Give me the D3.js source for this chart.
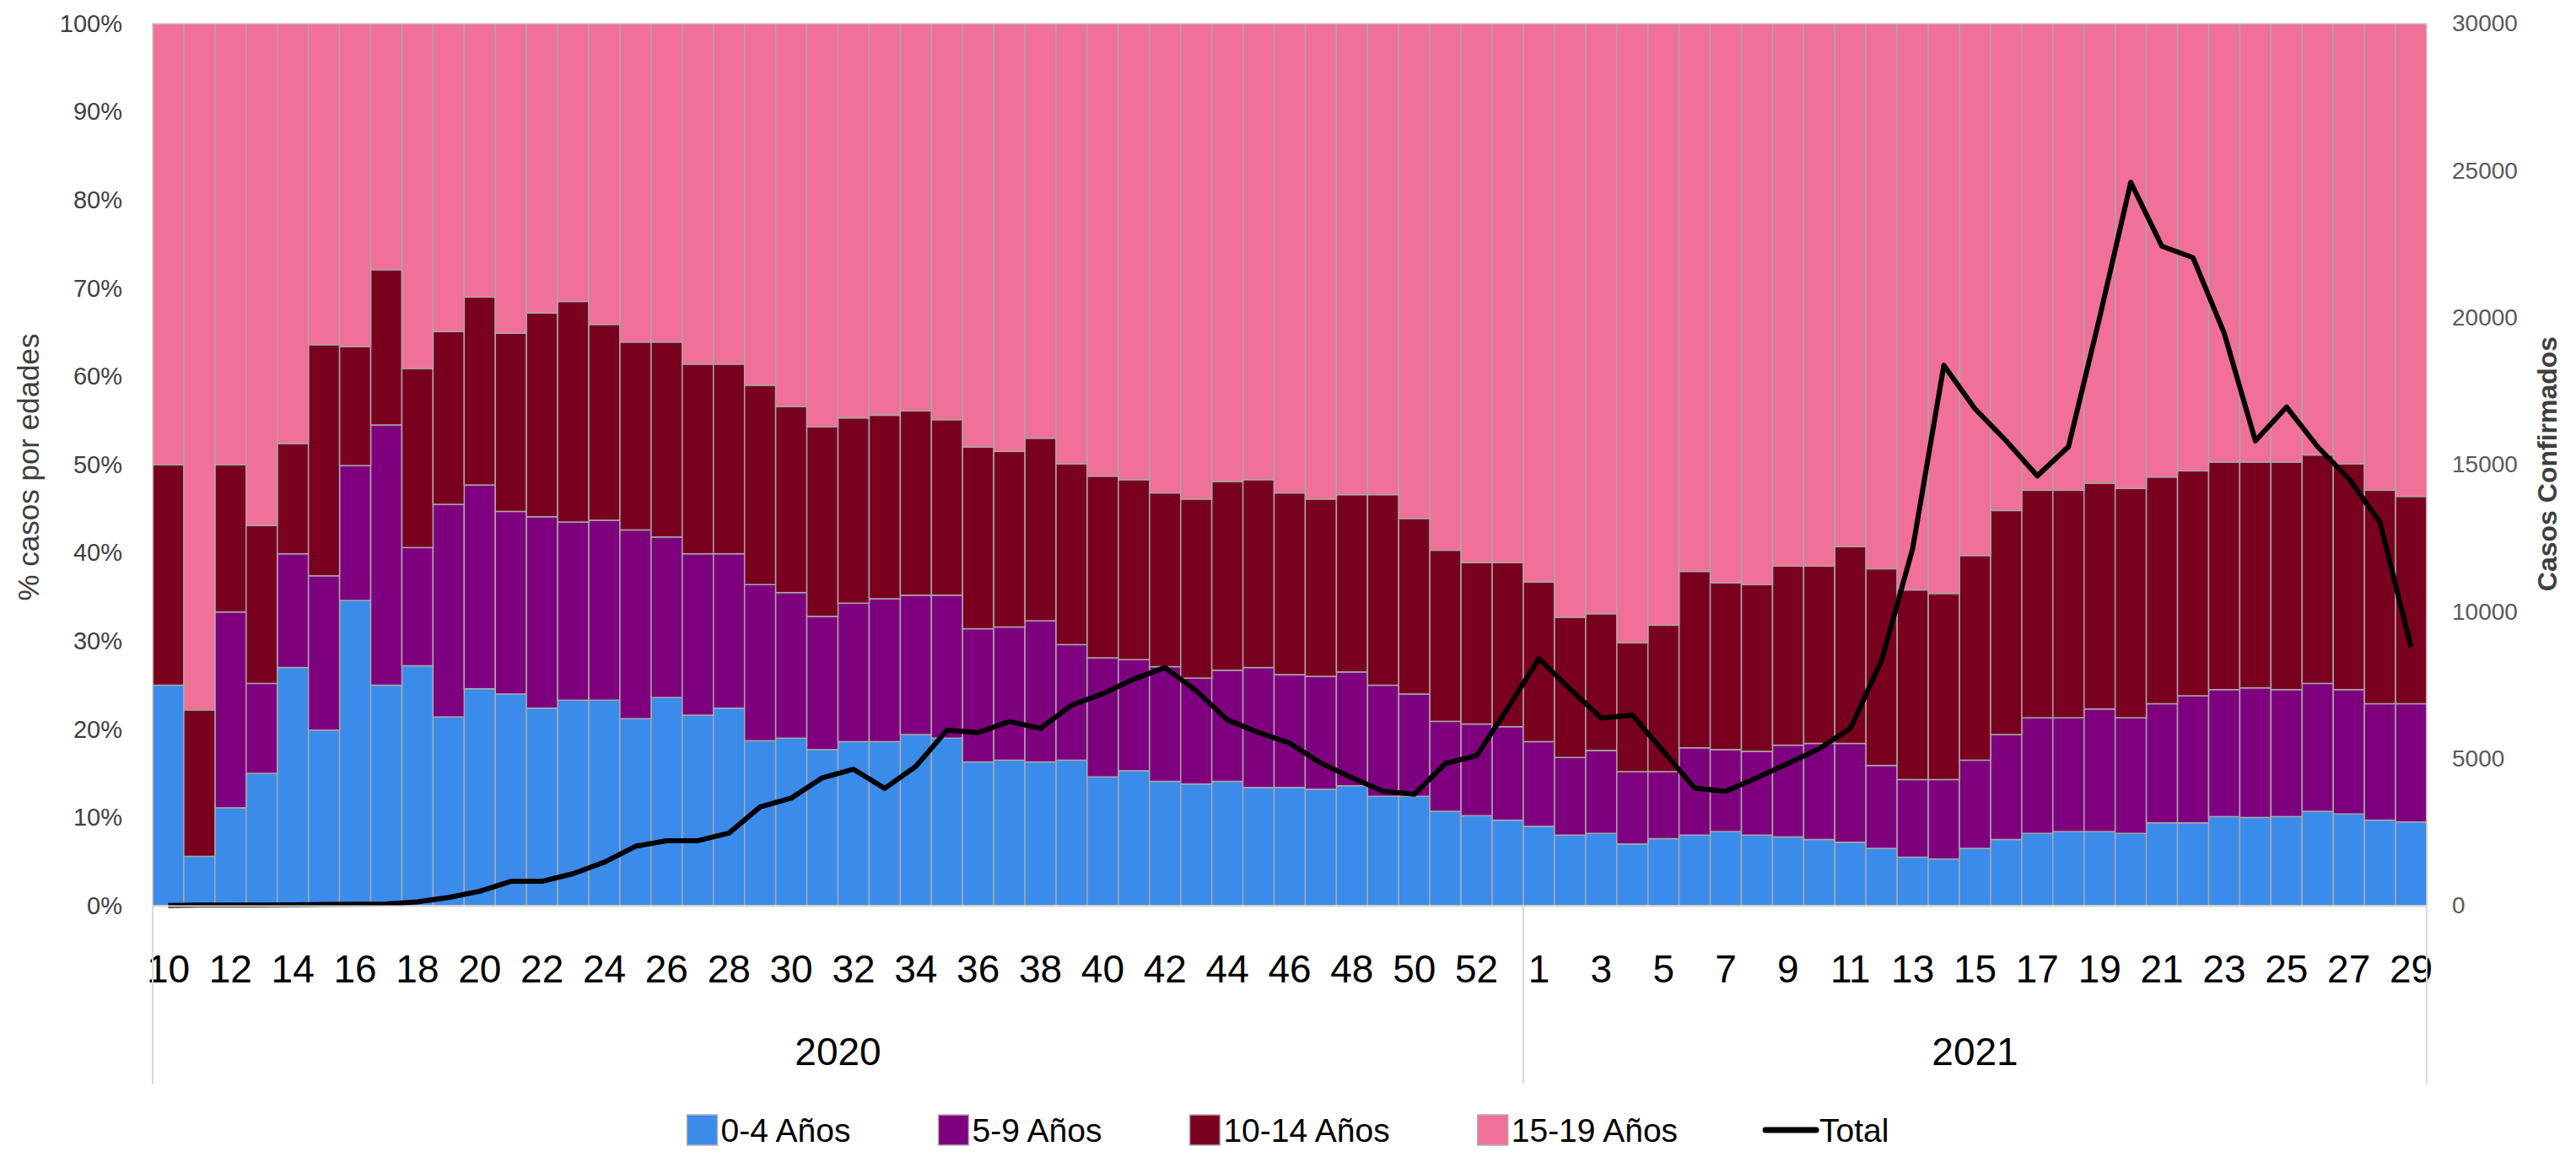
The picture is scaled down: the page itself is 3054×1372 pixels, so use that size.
<!DOCTYPE html>
<html>
<head>
<meta charset="utf-8">
<script src="https://cdn.jsdelivr.net/npm/d3@7"></script>
<style>
  body { margin: 0; background: #fff; }
  svg { display: block; }
</style>
</head>
<body>
<svg id="chart" width="3054" height="1372"></svg>
<script>
// semanas epidemiologicas
const weeks2020 = ['10','11','12','13','14','15','16','17','18','19','20','21','22','23','24','25','26','27','28','29','30','31',
  '32','33','34','35','36','37','38','39','40','41','42','43','44','45','46','47','48','49','50','51','52','53'];
const weeks2021 = ['1','2','3','4','5','6','7','8','9','10','11','12','13','14','15','16','17','18','19','20','21','22','23',
  '24','25','26','27','28','29'];
const years = ['2020', '2021'];

// % de casos por grupo de edad (cada semana suma 100)
const age04 = [25.0, 5.6, 11.1, 15.0, 27.0, 19.9, 34.6, 25.0, 27.2, 21.4, 24.6, 24.0, 22.4, 23.3, 23.3, 21.2, 23.6, 21.6, 22.4, 18.7,
  19.0, 17.7, 18.6, 18.6, 19.4, 19.0, 16.3, 16.5, 16.3, 16.5, 14.6, 15.3, 14.1, 13.8, 14.1, 13.4, 13.4, 13.2, 13.6, 12.4,
  12.4, 10.7, 10.2, 9.7,
  9.0, 8.0, 8.2, 7.0, 7.6, 8.0, 8.4, 8.0, 7.8, 7.5, 7.2, 6.5, 5.5, 5.3, 6.5, 7.5, 8.2, 8.4, 8.4, 8.2, 9.4, 9.4, 10.1, 10.0,
  10.1, 10.7, 10.4, 9.7, 9.5];
const age59 = [0.0, 0.0, 22.2, 10.2, 12.9, 17.5, 15.3, 29.5, 13.4, 24.1, 23.1, 20.7, 21.7, 20.2, 20.4, 21.4, 18.2, 18.3, 17.5, 17.7,
  16.5, 15.1, 15.7, 16.2, 15.8, 16.2, 15.1, 15.1, 16.0, 13.1, 13.5, 12.6, 13.0, 12.0, 12.6, 13.6, 12.8, 12.8, 12.9, 12.6,
  11.6, 10.2, 10.4, 10.6,
  9.6, 8.8, 9.4, 8.2, 7.6, 9.9, 9.3, 9.5, 10.4, 10.9, 11.2, 9.4, 8.8, 9.0, 10.0, 11.9, 13.1, 12.9, 13.9, 13.1, 13.5, 14.4,
  14.4, 14.7, 14.4, 14.5, 14.1, 13.2, 13.4];
const age1014 = [25.0, 16.6, 16.7, 17.9, 12.5, 26.2, 13.5, 17.6, 20.3, 19.6, 21.3, 20.2, 23.1, 25.0, 22.2, 21.3, 22.1, 21.5, 21.5, 22.6,
  21.1, 21.5, 21.0, 20.8, 20.9, 19.9, 20.6, 19.9, 20.7, 20.5, 20.6, 20.4, 19.7, 20.3, 21.4, 21.3, 20.6, 20.1, 20.1, 21.6,
  19.9, 19.4, 18.3, 18.6,
  18.1, 15.9, 15.5, 14.6, 16.6, 20.0, 18.9, 18.9, 20.3, 20.1, 22.3, 22.3, 21.5, 21.1, 23.2, 25.4, 25.8, 25.8, 25.6, 26.0,
  25.7, 25.5, 25.8, 25.6, 25.8, 25.9, 25.6, 24.2, 23.5];
const age1519 = [50.0, 77.8, 50.0, 56.9, 47.6, 36.4, 36.6, 27.9, 39.1, 34.9, 31.0, 35.1, 32.8, 31.5, 34.1, 36.1, 36.1, 38.6, 38.6, 41.0,
  43.4, 45.7, 44.7, 44.4, 43.9, 44.9, 48.0, 48.5, 47.0, 49.9, 51.3, 51.7, 53.2, 53.9, 51.9, 51.7, 53.2, 53.9, 53.4, 53.4,
  56.1, 59.7, 61.1, 61.1,
  63.3, 67.3, 66.9, 70.2, 68.2, 62.1, 63.4, 63.6, 61.5, 61.5, 59.3, 61.8, 64.2, 64.6, 60.3, 55.2, 52.9, 52.9, 52.1, 52.7,
  51.4, 50.7, 49.7, 49.7, 49.7, 48.9, 49.9, 52.9, 53.6];
// casos confirmados totales (eje derecho)
const total = [4, 18, 18, 20, 30, 40, 50, 60, 130, 280, 490, 830, 830, 1090, 1480, 2020, 2210, 2210, 2470, 3360,
  3660, 4350, 4640, 3990, 4740, 5970, 5890, 6265, 6030, 6820, 7210, 7710, 8100, 7310, 6320, 5890, 5530, 4850, 4350, 3890,
  3790, 4840, 5100, 6720,
  8400, 7370, 6380, 6480, 5240, 4000, 3890, 4350, 4840, 5340, 6030, 8340, 12150, 18380, 16900, 15810, 14620, 15610, 20000, 24600,
  22430, 22040, 19470, 15810, 16960, 15610, 14520, 13040, 8790];

const seriesNames = ['0-4 Años', '5-9 Años', '10-14 Años', '15-19 Años'];
const pctTicks = [0, 10, 20, 30, 40, 50, 60, 70, 80, 90, 100];
const totalTicks = [0, 5000, 10000, 15000, 20000, 25000, 30000];

const colors = ['#3b8beb', '#7f007f', '#7a0020', '#f07097'];
const keys = ['a04', 'a59', 'a1014', 'a1519'];

const weeks = weeks2020.concat(weeks2021);
const rows = weeks.map((w, i) => ({
  i: i, week: w,
  a04: age04[i], a59: age59[i], a1014: age1014[i], a1519: age1519[i],
  total: total[i]
}));

const svg = d3.select('#chart');
const width = +svg.attr('width');

// area del grafico
const pLeft = 181, pRight = 2877, pTop = 28, pBottom = 1074;

const x = d3.scaleBand().domain(d3.range(weeks.length)).range([pLeft, pRight]).padding(0);
const yPct = d3.scaleLinear().domain([0, 100]).range([pBottom, pTop]);
const yTot = d3.scaleLinear().domain([0, 30000]).range([pBottom, pTop]);

svg.append('defs').append('clipPath').attr('id', 'plotclip')
  .append('rect').attr('x', pLeft).attr('y', pTop).attr('width', pRight - pLeft).attr('height', pBottom - pTop);

// barras apiladas 100%
const stacked = d3.stack().keys(keys)(rows);
svg.append('g').attr('clip-path', 'url(#plotclip)')
  .selectAll('g').data(stacked).join('g')
    .attr('fill', (d, i) => colors[i])
  .selectAll('rect').data(d => d).join('rect')
    .attr('x', d => x(d.data.i))
    .attr('width', x.bandwidth())
    .attr('y', d => yPct(d[1]))
    .attr('height', d => yPct(d[0]) - yPct(d[1]))
    .attr('stroke', '#a8a8a8')
    .attr('stroke-width', 1.5);

// borde del area
svg.append('rect')
  .attr('x', pLeft).attr('y', pTop).attr('width', pRight - pLeft).attr('height', pBottom - pTop)
  .attr('fill', 'none').attr('stroke', '#c8c8c8').attr('stroke-width', 1.5);

// linea total
const line = d3.line()
  .x(d => x(d.i) + x.bandwidth() / 2)
  .y(d => yTot(d.total));
svg.append('path').datum(rows)
  .attr('d', line)
  .attr('fill', 'none')
  .attr('stroke', '#000')
  .attr('stroke-width', 6)
  .attr('stroke-linejoin', 'round');

// eje izquierdo
const yAxisL = svg.append('g').attr('transform', `translate(${pLeft},0)`)
  .call(d3.axisLeft(yPct).tickValues(pctTicks).tickFormat(d => d + '%').tickSize(0).tickPadding(36));
yAxisL.select('.domain').remove();
yAxisL.selectAll('text')
  .attr('font-family', 'Liberation Sans, Arial, sans-serif')
  .attr('font-size', 29)
  .attr('fill', '#404040');

// eje derecho
const yAxisR = svg.append('g').attr('transform', `translate(${pRight},0)`)
  .call(d3.axisRight(yTot).tickValues(totalTicks).tickFormat(d3.format('d')).tickSize(0).tickPadding(30));
yAxisR.select('.domain').remove();
yAxisR.selectAll('text')
  .attr('font-family', 'Liberation Sans, Arial, sans-serif')
  .attr('font-size', 28)
  .attr('fill', '#595959');

// eje x: semanas
const xAxis = svg.append('g').attr('transform', `translate(0,${pBottom})`)
  .call(d3.axisBottom(x).tickValues(d3.range(0, weeks.length, 2)).tickFormat(i => weeks[i]).tickSize(0));
xAxis.select('.domain').attr('stroke', '#d9d9d9').attr('stroke-width', 2);
xAxis.selectAll('text')
  .attr('y', 75).attr('dy', '0.35em')
  .attr('font-family', 'Liberation Sans, Arial, sans-serif')
  .attr('font-size', 46)
  .attr('fill', '#000');

// separadores y etiquetas de año
const yearEdges = [0, weeks2020.length, weeks.length];
const edgeX = i => i < weeks.length ? x(i) : pRight;
svg.append('g').selectAll('line').data(yearEdges).join('line')
  .attr('x1', d => edgeX(d)).attr('x2', d => edgeX(d))
  .attr('y1', pBottom).attr('y2', 1285)
  .attr('stroke', '#d9d9d9').attr('stroke-width', 2);
svg.append('g').selectAll('text').data(years).join('text')
  .attr('x', (d, i) => (edgeX(yearEdges[i]) + edgeX(yearEdges[i + 1])) / 2)
  .attr('y', 1247).attr('dy', '0.35em')
  .attr('text-anchor', 'middle')
  .attr('font-family', 'Liberation Sans, Arial, sans-serif')
  .attr('font-size', 46)
  .text(d => d);

// titulos de ejes
svg.append('text')
  .attr('transform', `translate(34,554) rotate(-90)`)
  .attr('dy', '0.35em')
  .attr('text-anchor', 'middle')
  .attr('font-family', 'Liberation Sans, Arial, sans-serif')
  .attr('font-size', 35)
  .attr('fill', '#404040')
  .text('% casos por edades');
svg.append('text')
  .attr('transform', `translate(3020,550) rotate(-90)`)
  .attr('dy', '0.35em')
  .attr('text-anchor', 'middle')
  .attr('font-family', 'Liberation Sans, Arial, sans-serif')
  .attr('font-size', 32)
  .attr('font-weight', 'bold')
  .attr('fill', '#404040')
  .text('Casos  Confirmados');

// leyenda
const legendItems = seriesNames.map((n, i) => ({name: n, color: colors[i], type: 'box'}))
  .concat([{name: 'Total', color: '#000', type: 'line'}]);
const legend = svg.append('g');
const ly = 1340;
const items = legend.selectAll('g').data(legendItems).join('g');
items.append('text')
  .attr('y', ly).attr('dy', '0.35em')
  .attr('font-family', 'Liberation Sans, Arial, sans-serif')
  .attr('font-size', 39)
  .attr('fill', '#000')
  .text(d => d.name);
let cursor = 0;
const offsets = [];
items.each(function(d) {
  const keyW = d.type === 'box' ? 36 : 60;
  const tw = d3.select(this).select('text').node().getComputedTextLength();
  offsets.push(cursor);
  d.keyW = keyW;
  cursor += keyW + 4 + tw + 104;
});
const legendW = cursor - 104;
const lx0 = (width - legendW) / 2;
items.each(function(d, i) {
  const g = d3.select(this);
  const gx = lx0 + offsets[i];
  g.select('text').attr('x', gx + d.keyW + 4);
  if (d.type === 'box') {
    g.append('rect').attr('x', gx).attr('y', ly - 18).attr('width', 36).attr('height', 36)
      .attr('fill', d.color).attr('stroke', '#b0b0b0').attr('stroke-width', 1.5);
  } else {
    g.append('line').attr('x1', gx).attr('x2', gx + 60).attr('y1', ly).attr('y2', ly)
      .attr('stroke', d.color).attr('stroke-width', 7).attr('stroke-linecap', 'round');
  }
});
</script>
</body>
</html>
